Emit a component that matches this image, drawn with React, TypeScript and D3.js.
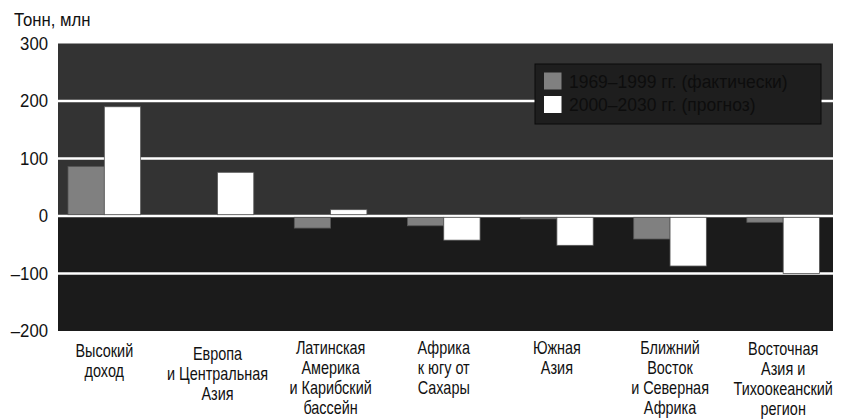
import React from "react";
import * as d3 from "d3";

const categories: string[][] = [
  ["Высокий", "доход"],
  ["Европа", "и Центральная", "Азия"],
  ["Латинская", "Америка", "и Карибский", "бассейн"],
  ["Африка", "к югу от", "Сахары"],
  ["Южная", "Азия"],
  ["Ближний", "Восток", "и Северная", "Африка"],
  ["Восточная", "Азия и", "Тихоокеанский", "регион"],
];
const actual1969_1999 = [86, 0, -21, -17, -5, -40, -11];
const forecast2000_2030 = [190, 76, 11, -42, -51, -87, -100];
const seriesNames = ["1969–1999 гг. (фактически)", "2000–2030 гг. (прогноз)"];
const yTicks = [300, 200, 100, 0, -100, -200];
const gridValues = [200, 100, 0, -100];
const yTitle = "Тонн, млн";

const W = 849;
const H = 419;
const FONT = "'Liberation Sans', Arial, sans-serif";
const plotLeft = 58;
const plotRight = 833;
const labelShift = [3, 6, 0, 0, 0, 0, 1];

export default function App() {
  const y = d3.scaleLinear().domain([-200, 300]).range([331, 43.5]);
  const keys = categories.map((_, i) => String(i));
  const x0 = d3.scaleBand<string>().domain(keys).range([68, 819.5]).paddingInner(0.358).paddingOuter(0);
  const x1 = d3.scaleBand<string>().domain(["a", "b"]).range([0, x0.bandwidth()]).padding(0);
  const series = [
    { key: "a", values: actual1969_1999, fill: "#808080" },
    { key: "b", values: forecast2000_2030, fill: "#ffffff" },
  ];
  const fmt = (v: number) => (v < 0 ? "–" + Math.abs(v) : String(v));

  return (
    <svg width={W} height={H} style={{ position: "absolute", left: 0, top: 0 }} fontFamily={FONT}>
      <rect x={0} y={0} width={W} height={H} fill="#fff" />
      <g transform="translate(14,26) scale(0.93,1)">
        <text x={0} y={0} fontSize={18} fill="#111">{yTitle}</text>
      </g>
      <rect x={plotLeft} y={y(300)} width={plotRight - plotLeft} height={y(0) - y(300)} fill="#333333" />
      <rect x={plotLeft} y={y(0)} width={plotRight - plotLeft} height={y(-200) - y(0)} fill="#1b1b1b" />
      {gridValues.map((v) => (
        <line key={v} x1={plotLeft} x2={plotRight} y1={y(v)} y2={y(v)} stroke="#ffffff" strokeWidth={2.5} />
      ))}
      {yTicks.map((v) => (
        <g key={v} transform={`translate(48,${y(v)}) scale(0.93,1)`}>
          <text x={0} y={0} dy="0.35em" textAnchor="end" fontSize={18} fill="#111">{fmt(v)}</text>
        </g>
      ))}
      {keys.map((k, i) => (
        <g key={k} transform={`translate(${x0(k)},0)`}>
          {series.map((s) => {
            const v = s.values[i];
            const top = v >= 0 ? y(v) : y(0) + 1.3;
            const h = v >= 0 ? y(0) - 1.3 - y(v) : y(v) - y(0) - 1.3;
            if (v === 0) return null;
            return (
              <rect key={s.key} x={x1(s.key)} y={top} width={x1.bandwidth()} height={Math.max(0, h)}
                fill={s.fill} stroke="#555" strokeWidth={0.8} />
            );
          })}
        </g>
      ))}
      {categories.map((lines, i) => {
        const cx = (x0(String(i)) as number) + x0.bandwidth() / 2;
        return (
          <g key={i} transform={`translate(${cx},${354 + labelShift[i]}) scale(0.78,1)`}>
            <text x={0} y={0} textAnchor="middle" fontSize={18.5} fill="#111">
              {lines.map((l, j) => (
                <tspan key={j} x={0} dy={j === 0 ? 0 : 20}>{l}</tspan>
              ))}
            </text>
          </g>
        );
      })}
      <g transform="translate(535,64)">
        <rect x={0} y={0} width={286} height={60} fill="#1e1e1e" stroke="#0a0a0a" strokeWidth={1} />
        {seriesNames.map((n, i) => (
          <g key={n} transform={`translate(9,${8.5 + i * 23.5})`}>
            <rect x={0} y={0} width={17.5} height={17} fill={series[i].fill} />
            <g transform="translate(25,15) scale(0.97,1)">
              <text x={0} y={0} fontSize={18} fill="#0d0d0d">{n}</text>
            </g>
          </g>
        ))}
      </g>
    </svg>
  );
}
